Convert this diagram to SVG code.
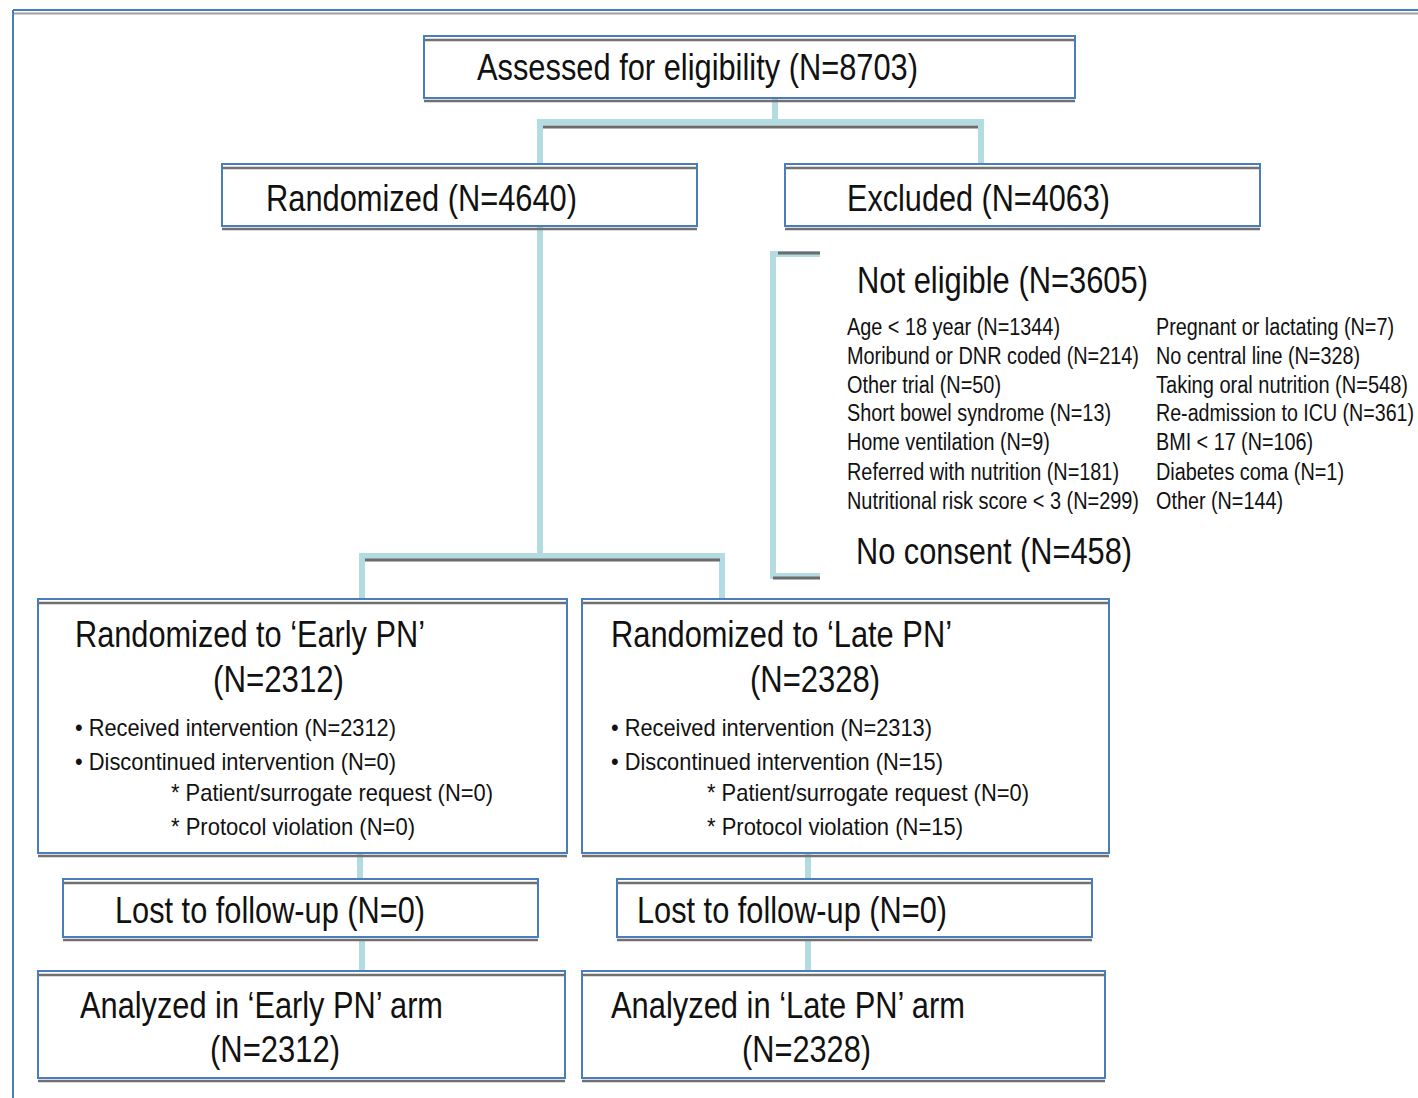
<svg xmlns="http://www.w3.org/2000/svg" width="1418" height="1098" viewBox="0 0 1418 1098">
<defs>
<style>
.box{fill:#fff;stroke:#4a7ebb;stroke-width:2}
.sh{stroke:#707070;stroke-width:2.5;fill:none}
.con{stroke:#b2dce1;stroke-width:6;fill:none;stroke-linecap:butt}
.conSh{stroke:#6b6b6b;stroke-width:3;fill:none}
text{font-family:"Liberation Sans",Arial,sans-serif;fill:#111}
.big{font-size:36px}
.sm{font-size:24px}
.xs{font-size:23px}
</style>
</defs>
<rect width="1418" height="1098" fill="#fff"/>
<g id="frame">
<line x1="13" y1="10" x2="1418" y2="10" stroke="#4a7ebb" stroke-width="2"/>
<line x1="14" y1="13.5" x2="1418" y2="13.5" stroke="#a0a0a0" stroke-width="2"/>
<line x1="13" y1="10" x2="13" y2="1098" stroke="#4a7ebb" stroke-width="2"/>
</g>
<g id="connectors">
<path class="con" d="M775,98 V123"/>
<path class="con" d="M540,164 V122 H981 V164"/>
<line class="conSh" x1="543" y1="127" x2="978" y2="127"/>
<path class="con" d="M540,227 V555"/>
<path class="con" d="M362,600 V556 H722 V600"/>
<line class="conSh" x1="365" y1="560" x2="720" y2="560"/>
<path class="con" d="M820,254 H773 V576 H820"/>
<line class="conSh" x1="778" y1="253" x2="820" y2="253"/>
<line class="conSh" x1="773" y1="578" x2="820" y2="578"/>
<path class="con" d="M360,853 V879"/>
<path class="con" d="M362,941 V971"/>
<path class="con" d="M808,853 V879"/>
<path class="con" d="M808,941 V971"/>
</g>
<g id="assessed">
<rect class="box" x="424" y="36" width="651" height="62"/>
<line class="sh" x1="425" y1="40" x2="1074" y2="40"/>
<line class="sh" x1="424" y1="101" x2="1075" y2="101"/>
<text class="big" x="477" y="80" textLength="441" lengthAdjust="spacingAndGlyphs">Assessed for eligibility (N=8703)</text>
</g>
<g id="randomized">
<rect class="box" x="222" y="164" width="475" height="62"/>
<line class="sh" x1="223" y1="168" x2="696" y2="168"/>
<line class="sh" x1="222" y1="229" x2="697" y2="229"/>
<text class="big" x="266" y="211" textLength="311" lengthAdjust="spacingAndGlyphs">Randomized (N=4640)</text>
</g>
<g id="excluded">
<rect class="box" x="785" y="164" width="475" height="62"/>
<line class="sh" x1="786" y1="168" x2="1259" y2="168"/>
<line class="sh" x1="785" y1="229" x2="1260" y2="229"/>
<text class="big" x="847" y="211" textLength="263" lengthAdjust="spacingAndGlyphs">Excluded (N=4063)</text>
</g>
<g id="exclusion-details">
<text class="big" x="857" y="293" textLength="291" lengthAdjust="spacingAndGlyphs">Not eligible (N=3605)</text>
<text class="xs" transform="translate(847,335) scale(0.86,1)" textLength="247.7" lengthAdjust="spacingAndGlyphs">Age &lt; 18 year (N=1344)</text>
<text class="xs" transform="translate(847,364) scale(0.86,1)" textLength="339.5" lengthAdjust="spacingAndGlyphs">Moribund or DNR coded (N=214)</text>
<text class="xs" transform="translate(847,393) scale(0.86,1)" textLength="179.1" lengthAdjust="spacingAndGlyphs">Other trial (N=50)</text>
<text class="xs" transform="translate(847,421) scale(0.86,1)" textLength="307" lengthAdjust="spacingAndGlyphs">Short bowel syndrome (N=13)</text>
<text class="xs" transform="translate(847,450) scale(0.86,1)" textLength="236" lengthAdjust="spacingAndGlyphs">Home ventilation (N=9)</text>
<text class="xs" transform="translate(847,480) scale(0.86,1)" textLength="316.3" lengthAdjust="spacingAndGlyphs">Referred with nutrition (N=181)</text>
<text class="xs" transform="translate(847,509) scale(0.86,1)" textLength="339.5" lengthAdjust="spacingAndGlyphs">Nutritional risk score &lt; 3 (N=299)</text>
<text class="xs" transform="translate(1156,335) scale(0.86,1)" textLength="276.7" lengthAdjust="spacingAndGlyphs">Pregnant or lactating (N=7)</text>
<text class="xs" transform="translate(1156,364) scale(0.86,1)" textLength="237.2" lengthAdjust="spacingAndGlyphs">No central line (N=328)</text>
<text class="xs" transform="translate(1156,393) scale(0.86,1)" textLength="293" lengthAdjust="spacingAndGlyphs">Taking oral nutrition (N=548)</text>
<text class="xs" transform="translate(1156,421) scale(0.86,1)" textLength="300" lengthAdjust="spacingAndGlyphs">Re-admission to ICU (N=361)</text>
<text class="xs" transform="translate(1156,450) scale(0.86,1)" textLength="182.6" lengthAdjust="spacingAndGlyphs">BMI &lt; 17 (N=106)</text>
<text class="xs" transform="translate(1156,480) scale(0.86,1)" textLength="218.6" lengthAdjust="spacingAndGlyphs">Diabetes coma (N=1)</text>
<text class="xs" transform="translate(1156,509) scale(0.86,1)" textLength="147.7" lengthAdjust="spacingAndGlyphs">Other (N=144)</text>
<text class="big" x="856" y="564" textLength="276" lengthAdjust="spacingAndGlyphs">No consent (N=458)</text>
</g>
<g id="early-pn">
<rect class="box" x="38" y="599" width="529" height="254"/>
<line class="sh" x1="39" y1="603" x2="566" y2="603"/>
<line class="sh" x1="38" y1="856" x2="567" y2="856"/>
<text class="big" x="75" y="647" textLength="350" lengthAdjust="spacingAndGlyphs">Randomized to &#8216;Early PN&#8217;</text>
<text class="big" x="213" y="692" textLength="131" lengthAdjust="spacingAndGlyphs">(N=2312)</text>
<text class="sm" x="75" y="736" textLength="321" lengthAdjust="spacingAndGlyphs">• Received intervention (N=2312)</text>
<text class="sm" x="75" y="770" textLength="321" lengthAdjust="spacingAndGlyphs">• Discontinued intervention (N=0)</text>
<text class="sm" x="171" y="801" textLength="322" lengthAdjust="spacingAndGlyphs">* Patient/surrogate request (N=0)</text>
<text class="sm" x="171" y="835" textLength="244" lengthAdjust="spacingAndGlyphs">* Protocol violation (N=0)</text>
</g>
<g id="late-pn">
<rect class="box" x="582" y="599" width="527" height="254"/>
<line class="sh" x1="583" y1="603" x2="1108" y2="603"/>
<line class="sh" x1="582" y1="856" x2="1109" y2="856"/>
<text class="big" x="611" y="647" textLength="341" lengthAdjust="spacingAndGlyphs">Randomized to &#8216;Late PN&#8217;</text>
<text class="big" x="750" y="692" textLength="130" lengthAdjust="spacingAndGlyphs">(N=2328)</text>
<text class="sm" x="611" y="736" textLength="321" lengthAdjust="spacingAndGlyphs">• Received intervention (N=2313)</text>
<text class="sm" x="611" y="770" textLength="332" lengthAdjust="spacingAndGlyphs">• Discontinued intervention (N=15)</text>
<text class="sm" x="707" y="801" textLength="322" lengthAdjust="spacingAndGlyphs">* Patient/surrogate request (N=0)</text>
<text class="sm" x="707" y="835" textLength="256" lengthAdjust="spacingAndGlyphs">* Protocol violation (N=15)</text>
</g>
<g id="lost-early">
<rect class="box" x="63" y="879" width="475" height="58"/>
<line class="sh" x1="64" y1="883" x2="537" y2="883"/>
<line class="sh" x1="63" y1="940" x2="538" y2="940"/>
<text class="big" x="115" y="923" textLength="310" lengthAdjust="spacingAndGlyphs">Lost to follow-up (N=0)</text>
</g>
<g id="lost-late">
<rect class="box" x="617" y="879" width="475" height="58"/>
<line class="sh" x1="618" y1="883" x2="1091" y2="883"/>
<line class="sh" x1="617" y1="940" x2="1092" y2="940"/>
<text class="big" x="637" y="923" textLength="310" lengthAdjust="spacingAndGlyphs">Lost to follow-up (N=0)</text>
</g>
<g id="analyzed-early">
<rect class="box" x="38" y="971" width="527" height="107"/>
<line class="sh" x1="39" y1="975" x2="564" y2="975"/>
<line class="sh" x1="38" y1="1081" x2="565" y2="1081"/>
<text class="big" x="80" y="1018" textLength="363" lengthAdjust="spacingAndGlyphs">Analyzed in &#8216;Early PN&#8217; arm</text>
<text class="big" x="210" y="1062" textLength="130" lengthAdjust="spacingAndGlyphs">(N=2312)</text>
</g>
<g id="analyzed-late">
<rect class="box" x="582" y="971" width="523" height="107"/>
<line class="sh" x1="583" y1="975" x2="1104" y2="975"/>
<line class="sh" x1="582" y1="1081" x2="1105" y2="1081"/>
<text class="big" x="611" y="1018" textLength="354" lengthAdjust="spacingAndGlyphs">Analyzed in &#8216;Late PN&#8217; arm</text>
<text class="big" x="742" y="1062" textLength="129" lengthAdjust="spacingAndGlyphs">(N=2328)</text>
</g>
</svg>
